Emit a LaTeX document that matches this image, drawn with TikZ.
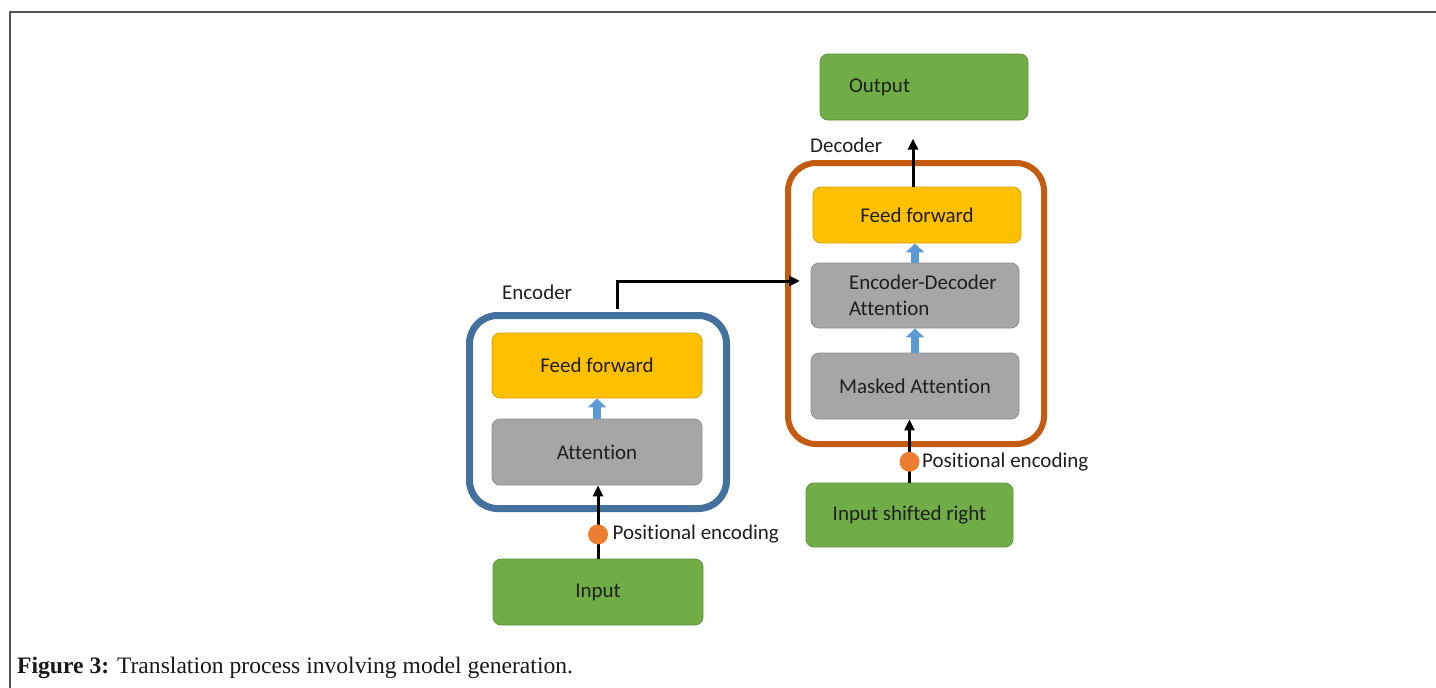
\documentclass[tikz,border=0pt]{standalone}
\usepackage{fontspec}
\setmainfont{Carlito}[Ligatures=NoCommon]
\newfontfamily\capfont{Liberation Serif}
\usetikzlibrary{arrows.meta}
\definecolor{B}{RGB}{65,113,156}
\definecolor{O}{RGB}{197,90,17}
\definecolor{Y}{RGB}{255,192,0}
\definecolor{Gr}{RGB}{166,166,166}
\definecolor{G}{RGB}{112,173,71}
\definecolor{C}{RGB}{91,155,213}
\definecolor{P}{RGB}{237,125,49}
\definecolor{M}{RGB}{85,85,85}

\tikzset{
	caja/.style={rounded corners=8pt, minimum width=210pt, minimum height=65pt, inner sep=0pt,
		line width=0.8pt, font=\fontsize{21}{26}\selectfont, text=black!88},
	amarilla/.style={caja, fill=Y, draw=Y!85!black},
	gris/.style={caja, fill=Gr, draw=Gr!85!black},
	verde/.style={caja, fill=G, draw=G!85!black},
	marco/.style={rounded corners=28pt, inner sep=0pt},
	rotulo/.style={anchor=west, inner sep=0pt, font=\fontsize{21}{26}\selectfont, text=black!88},
	flecha/.style={-{Triangle[width=18pt,length=9pt]}, line width=8pt, C},
	negra/.style={-{Triangle[width=10pt,length=11pt]}, line width=3pt},
	punto/.style={circle, fill=P, minimum size=20pt, inner sep=0pt}
}

\begin{document}
\begin{tikzpicture}[x=1pt,y=-1pt]
	\useasboundingbox (0,0) rectangle (1436,688);
	\fill[white] (0,0) rectangle (1436,688);
	\draw[M, line width=2pt] (10,688) -- (10,12) -- (1436,12);

	%Codificador
	\node[marco, draw=B, line width=7pt, minimum width=257pt, minimum height=193pt] (enc) at (598,412) {};
	\node[rotulo] (enclbl) at (502,292) {Encoder};
	\node[amarilla] (encff) at (597,365.5) {Feed forward};
	\node[gris, minimum height=66pt] (encatt) at (597,452) {Attention};
	\node[verde, minimum height=66pt] (input) at (598,592) {Input};

	%Decodificador
	\node[marco, draw=O, line width=6pt, minimum width=256pt, minimum height=281pt] (dec) at (916,303.5) {};
	\node[rotulo] (declbl) at (810,145) {Decoder};
	\node[verde, minimum width=208pt, minimum height=66pt, text width=150pt, inner xsep=29pt, align=left] (output) at (924,87) {Output};
	\node[amarilla, minimum width=208pt, minimum height=56pt] (decff) at (917,215) {Feed forward};
	\node[gris, minimum width=208pt, text width=132pt, inner xsep=38pt, align=left] (encdec) at (915,295.5) {\mbox{Encoder-Decoder}\\Attention};
	\node[gris, minimum width=208pt, minimum height=66pt] (masked) at (915,386) {Masked Attention};
	\node[verde, minimum width=207pt, minimum height=64pt] (inshift) at (909.5,515) {Input shifted right};

	%Flechas azules
	\draw[flecha] (encatt.north) -- (encff.south);
	\draw[flecha] (masked.north) -- (encdec.south);
	\draw[flecha] (encdec.north) -- (encdec.north |- decff.south);

	%Flechas negras
	\coordinate (edin) at (800,281);
	\draw[negra, shorten <=3.5pt] ([xshift=19pt]enc.north) |- (edin);
	\draw[negra] (input.north) -- node[punto, pos=0.33] (pe1) {} (input.north |- encatt.south);
	\node[rotulo] (pe1lbl) at ([xshift=3pt]pe1.east) {Positional encoding};
	\draw[negra] (inshift.north) -- node[punto, pos=0.33] (pe2) {} (inshift.north |- masked.south);
	\node[rotulo] (pe2lbl) at ([xshift=1pt]pe2.east) {Positional encoding};
	\draw[negra] ([xshift=-4pt]decff.north) -- ++(0,-48);

	%Pie de figura
	\node[anchor=base west, inner sep=0pt, font=\capfont\fontsize{23.6}{28}\selectfont, text=black!90] (pie) at (17,673)
		{\textbf{Figure 3:} Translation process involving model generation.};
\end{tikzpicture}
\end{document}
